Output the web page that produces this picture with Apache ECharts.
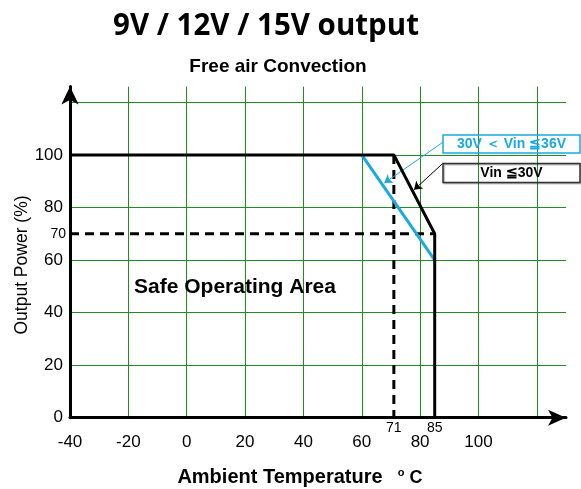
<!DOCTYPE html>
<html>
<head>
<meta charset="utf-8">
<script src="https://cdn.jsdelivr.net/npm/echarts@6/dist/echarts.min.js"></script>
<style>
html,body{margin:0;padding:0;background:#fff;}
#chart{width:581px;height:489px;}
</style>
</head>
<body>
<div id="chart"></div>
<script>
// ---- data ----
const xMin = -40, xMax = 130, xStep = 20;       // axis runs past 120 to the arrow head
const yMin = 0, yMax = 126, yStep = 20;
const xTickLabels = [-40, -20, 0, 20, 40, 60, 80, 100];
const yTickLabels = [0, 20, 40, 60, 80, 100];
const xSpecialTicks = [71, 85];
const ySpecialTicks = [70];
const curveVinLow = [[-40, 100], [71, 100], [85, 70], [85, 0]];   // Vin <= 30V
const curveVinHigh = [[60, 100], [85, 60]];                       // 30V < Vin <= 36V
const guideH70 = [[-40, 70], [85, 70]];
const guideV71 = [[71, 100], [71, 0]];
const arrowHigh = [[87.9, 104.9], [67.7, 89.3]];
const arrowLow = [[87.9, 96.9], [77.9, 86.7]];

const GREEN = '#1c8f1c';
const BLUE = '#19a9e3';
const ARIAL = '"Liberation Sans", Arial, sans-serif';

const chart = echarts.init(document.getElementById('chart'), null, {renderer: 'canvas'});

const option = {
  backgroundColor: '#fff',
  animation: false,
  grid: {left: 70, top: 86.6, width: 496, height: 331.1, containLabel: false},
  xAxis: [{
    type: 'value', min: xMin, max: xMax, interval: xStep,
    axisLine: {show: true, onZero: false, lineStyle: {color: '#000', width: 3}, symbol: ['none', 'arrow'], symbolSize: [12, 18]},
    axisTick: {show: false},
    splitLine: {show: true, showMaxLine: false, lineStyle: {color: GREEN, width: 1}},
    axisLabel: {
      margin: 16, fontSize: 17, color: '#000', fontFamily: ARIAL,
      formatter: v => (xTickLabels.indexOf(v) >= 0 ? String(v) : '')
    }
  }, {
    type: 'value', min: xMin, max: xMax, position: 'bottom',
    axisLine: {show: false, onZero: false}, axisTick: {show: false}, splitLine: {show: false},
    axisLabel: {customValues: xSpecialTicks, margin: 3, fontSize: 14, color: '#000', fontFamily: ARIAL}
  }],
  yAxis: [{
    type: 'value', min: yMin, max: yMax, interval: yStep,
    axisLine: {show: true, onZero: false, lineStyle: {color: '#000', width: 3}, symbol: ['none', 'arrow'], symbolSize: [13, 18]},
    axisTick: {show: false},
    splitLine: {show: true, showMaxLine: false, lineStyle: {color: GREEN, width: 1}},
    axisLabel: {
      margin: 7, fontSize: 17, color: '#000', fontFamily: ARIAL,
      formatter: v => (yTickLabels.indexOf(v) >= 0 ? String(v) : '')
    }
  }, {
    type: 'value', min: yMin, max: yMax, position: 'left',
    axisLine: {show: false, onZero: false}, axisTick: {show: false}, splitLine: {show: false},
    axisLabel: {customValues: ySpecialTicks, margin: 4, fontSize: 14, color: '#000', fontFamily: ARIAL}
  }],
  series: [
    {
      type: 'line', data: guideH70, symbol: 'none', silent: true, z: 3,
      lineStyle: {color: '#000', width: 3, type: [9, 6]}
    },
    {
      type: 'line', data: guideV71, symbol: 'none', silent: true, z: 3,
      lineStyle: {color: '#000', width: 3, type: [9, 6]}
    },
    {
      type: 'line', data: curveVinHigh, symbol: 'none', silent: true, z: 4,
      lineStyle: {color: BLUE, width: 3},
      markLine: {
        silent: true, symbol: ['none', 'arrow'], symbolSize: 8,
        label: {show: false},
        lineStyle: {color: BLUE, width: 1, type: 'solid'},
        data: [[{coord: arrowHigh[0]}, {coord: arrowHigh[1]}]]
      }
    },
    {
      type: 'line', data: curveVinLow, symbol: 'none', silent: true, z: 5,
      lineStyle: {color: '#000', width: 3},
      markLine: {
        silent: true, symbol: ['none', 'arrow'], symbolSize: 8,
        label: {show: false},
        lineStyle: {color: '#000', width: 1, type: 'solid'},
        data: [[{coord: arrowLow[0]}, {coord: arrowLow[1]}]]
      }
    }
  ],
  graphic: [
    {type: 'text', x: 266, y: 27, z: 100, style: {text: '9V / 12V / 15V output', font: 'bold 29.5px "Open Sans", sans-serif', fill: '#000', align: 'center', verticalAlign: 'middle'}},
    {type: 'text', x: 278, y: 67, z: 100, style: {text: 'Free air Convection', font: 'bold 19px ' + ARIAL, fill: '#000', align: 'center', verticalAlign: 'middle'}},
    {type: 'text', x: 22, y: 265, rotation: Math.PI / 2, z: 100, style: {text: 'Output Power (%)', font: '17.5px ' + ARIAL, fill: '#000', align: 'center', verticalAlign: 'middle'}},
    {type: 'text', x: 280, y: 477, z: 100, style: {text: 'Ambient Temperature', font: 'bold 20px ' + ARIAL, fill: '#000', align: 'center', verticalAlign: 'middle'}},
    {type: 'text', x: 401, y: 473, z: 100, style: {text: 'o', font: 'bold 11px ' + ARIAL, fill: '#000', align: 'center', verticalAlign: 'middle'}},
    {type: 'text', x: 416, y: 478, z: 100, style: {text: 'C', font: 'bold 18px ' + ARIAL, fill: '#000', align: 'center', verticalAlign: 'middle'}},
    {type: 'text', x: 235, y: 287, z: 100, style: {text: 'Safe Operating Area', font: 'bold 21px ' + ARIAL, fill: '#000', align: 'center', verticalAlign: 'middle'}},
    {type: 'rect', z: 100, shape: {x: 443, y: 135, width: 137, height: 18}, style: {fill: 'none', stroke: BLUE, lineWidth: 1.5}},
    {type: 'text', x: 511.5, y: 144.5, z: 101, style: {text: '30V \uFF1C Vin \u226636V', font: 'bold 14px ' + ARIAL, fill: BLUE, align: 'center', verticalAlign: 'middle'}},
    {type: 'rect', z: 100, shape: {x: 443, y: 163.5, width: 137, height: 19}, style: {fill: 'none', stroke: '#333', lineWidth: 1.5, shadowColor: 'rgba(0,0,0,0.35)', shadowOffsetX: 1, shadowOffsetY: 1, shadowBlur: 1}},
    {type: 'text', x: 511.5, y: 173.5, z: 101, style: {text: 'Vin \u226630V', font: 'bold 14px ' + ARIAL, fill: '#000', align: 'center', verticalAlign: 'middle'}}
  ]
};
chart.setOption(option);
</script>
</body>
</html>
